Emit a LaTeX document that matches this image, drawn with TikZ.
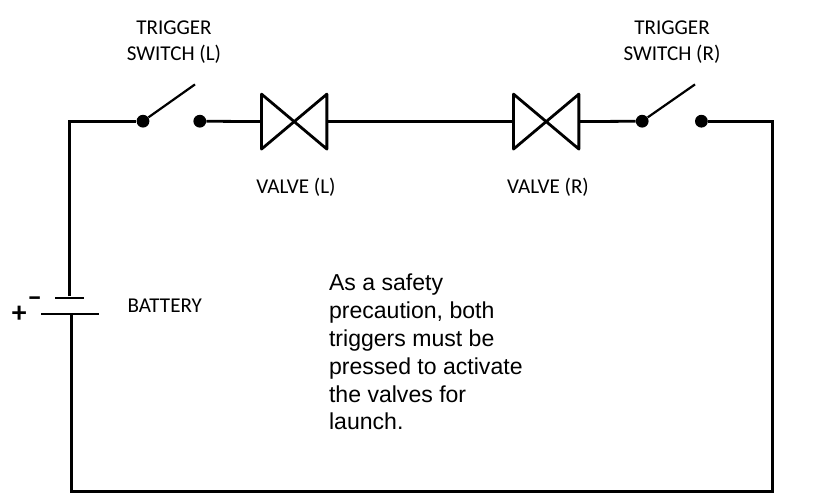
\documentclass[tikz,border=0pt]{standalone}
\usepackage{fontspec}
\setmainfont{Carlito}
\newfontfamily\notefont{Liberation Sans}
\usetikzlibrary{positioning}

\begin{document}
\begin{tikzpicture}[
        on grid,
        dot_node/.style={circle, fill=black, inner sep=0pt, minimum size=3.2mm},
        valve_node/.style={rectangle, inner sep=0pt, minimum width=16.2mm, minimum height=13.6mm},
        plate_node/.style={rectangle, fill=black, inner sep=0pt, minimum height=0.7mm},
        label_node/.style={align=center, font=\fontsize{15}{18.5}\selectfont, inner sep=0pt},
        sign_node/.style={font=\fontsize{21}{21}\selectfont\bfseries, inner sep=0pt},
        wire/.style={black, line width=0.7mm},
        thin_wire/.style={black, line width=0.55mm},
        ]
            \useasboundingbox (0,0) rectangle (20.9,-12.475);

            % top row
            \node[dot_node]     (pivot_l)                                              at (3.575,-3.03) {};
            \node[dot_node]     (contact_l)  [right = 14.2mm of pivot_l]               {};
            \node[valve_node]   (valve_l)    [right = 23.6mm of contact_l, yshift=-0.1mm]  {};
            \node[valve_node]   (valve_r)    [right = 63mm of valve_l]                 {};
            \node[dot_node]     (pivot_r)    [right = 24mm of valve_r, yshift=0.1mm]   {};
            \node[dot_node]     (contact_r)  [right = 14.8mm of pivot_r]               {};
            \coordinate[above right = 9.2mm and 13mm of pivot_l]    (lever_l);
            \coordinate[above right = 9.2mm and 13.2mm of pivot_r]  (lever_r);

            % battery
            \node[plate_node, minimum width=7.4mm]   (plate_neg)   at (1.74,-7.45)     {};
            \node[plate_node, minimum width=14.6mm]  (plate_pos)   at (1.75,-7.85)     {};
            \node[sign_node]    (minus)   at (0.87,-7.54)  {\symbol{"2013}};
            \node[sign_node]    (plus)    at (0.48,-7.87)  {+};

            % corners
            \coordinate (corner_tl) at (1.74,-3.03);
            \coordinate (corner_tr) at (19.32,-3.05);
            \coordinate (corner_bl) at (1.78,-12.28);
            \coordinate (corner_br) at (19.32,-12.28);

            % labels
            \node[label_node]   (label_trigger_l)  at (4.35,-1.05)  {TRIGGER\\SWITCH (L)};
            \node[label_node]   (label_trigger_r)  at (16.8,-1.05)  {TRIGGER\\SWITCH (R)};
            \node[label_node]   (label_valve_l)    at (7.4,-4.67)   {VALVE (L)};
            \node[label_node]   (label_valve_r)    at (13.7,-4.67)  {VALVE (R)};
            \node[label_node]   (label_battery)    at (4.12,-7.65)  {BATTERY};
            \node[align=left, anchor=north west, inner sep=0pt, font=\notefont\fontsize{16.4}{19.76}\selectfont] (note) at (8.22,-6.85)
                {As a safety\\precaution, both\\triggers must be\\pressed to activate\\the valves for\\launch.};

            % valves
            \draw[wire, line join=round] (valve_l.north west) -- (valve_l.south west) -- (valve_l.north east) -- (valve_l.south east) -- cycle;
            \draw[wire, line join=round] (valve_r.north west) -- (valve_r.south west) -- (valve_r.north east) -- (valve_r.south east) -- cycle;

            % levers
            \draw[thin_wire] (pivot_l) -- (lever_l);
            \draw[thin_wire] (pivot_r) -- (lever_r);

            % Lines
            \draw[wire] (plate_neg) -- (corner_tl) -- (pivot_l);
            \draw[wire] (contact_l) -- (valve_l.west);
            \draw[wire] (valve_l.east) -- (valve_r.west);
            \draw[wire] (valve_r.east) -- (pivot_r);
            \draw[wire] (contact_r) -- (contact_r -| corner_tr) -- (corner_br) -- (corner_bl) -- (plate_pos.center -| corner_bl);
        \end{tikzpicture}
\end{document}
